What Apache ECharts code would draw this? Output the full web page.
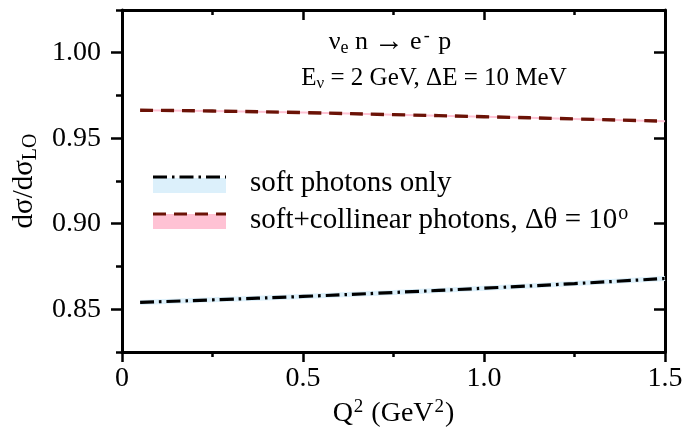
<!DOCTYPE html>
<html>
<head>
<meta charset="utf-8">
<script src="https://cdn.jsdelivr.net/npm/echarts@6/dist/echarts.min.js"></script>
<style>
  html, body { margin: 0; padding: 0; background: #fff; }
  #chart { width: 686px; height: 433px; }
</style>
</head>
<body>
<div id="chart"></div>
<script>
// Q^2 grid (GeV^2) and the ratio dσ/dσ_LO for the two treatments of radiation
const q2 = [0.05, 0.25, 0.5, 0.75, 1.0, 1.25, 1.5];
const softOnly = [0.854, 0.8555, 0.8575, 0.8598, 0.8623, 0.865, 0.868];
const softCollinear = [0.9664, 0.9659, 0.9650, 0.9638, 0.9626, 0.9613, 0.960];

// axis ticks and labels
const xTickLabels = { 0: '0', 0.5: '0.5', 1: '1.0', 1.5: '1.5' };
const yMajor = [0.85, 0.90, 0.95, 1.00];
const yMinor = [0.825, 0.875, 0.925, 0.975, 1.025];

const FONT = 'Liberation Serif';
const DARK_RED = '#6b1206';
const PINK = '#ffc2d4';
const LIGHT_BLUE = '#dcf0fb';

const pairs = (ys) => q2.map((x, i) => [x, ys[i]]);

const chart = echarts.init(document.getElementById('chart'), null, { renderer: 'canvas' });

const axisLine = { show: true, onZero: false, lineStyle: { color: '#000', width: 3 } };
const tickStyle = { color: '#000', width: 2.5 };

const yBase = { type: 'value', min: 0.825, max: 1.025, splitLine: { show: false } };

// rich-text helpers for sub/superscripts
const richMain = (size) => ({ fontFamily: FONT, fontSize: size, color: '#000', lineHeight: size + 4 });
const richSub = (size, drop) => ({
  fontFamily: FONT, fontSize: size, color: '#000', lineHeight: size + 1,
  padding: [drop, 0, 0, 0], verticalAlign: 'bottom'
});
const richSup = (size, rise, side) => ({
  fontFamily: FONT, fontSize: size, color: '#000', lineHeight: size + 1,
  padding: [0, side || 0, rise, side || 0], verticalAlign: 'top'
});

chart.setOption({
  animation: false,
  grid: { left: 122, right: 21, top: 10, bottom: 81, containLabel: false, outerBoundsMode: 'none' },
  xAxis: [
    {
      type: 'value', position: 'bottom', min: 0, max: 1.5, interval: 0.5,
      axisLine,
      axisTick: { inside: false, length: 10, lineStyle: tickStyle },
      minorTick: { show: true, splitNumber: 2, length: 5, lineStyle: tickStyle },
      splitLine: { show: false },
      axisLabel: {
        margin: 13, color: '#000', fontFamily: FONT, fontSize: 28,
        formatter: (v) => xTickLabels[v] ?? ''
      },
      name: '{m|Q}{u|2}{m| (GeV}{u|2}{m|)}', nameLocation: 'middle', nameGap: 44,
      nameTextStyle: {
        color: '#000', fontFamily: FONT, fontSize: 28,
        rich: { m: richMain(28), u: richSup(19, 9, 1) }
      }
    },
    {
      type: 'value', position: 'top', min: 0, max: 1.5, interval: 0.5,
      axisLine,
      axisTick: { inside: true, length: 10, lineStyle: tickStyle },
      minorTick: { show: true, splitNumber: 2, length: 5, lineStyle: tickStyle },
      splitLine: { show: false },
      axisLabel: { show: false }
    }
  ],
  yAxis: [
    Object.assign({}, yBase, {
      position: 'left',
      axisLine,
      axisTick: { inside: false, length: 11, customValues: yMajor, lineStyle: tickStyle },
      axisLabel: {
        customValues: yMajor, margin: 21, color: '#000', fontFamily: FONT, fontSize: 28,
        formatter: (v) => v.toFixed(2)
      },
      name: '{m|dσ/dσ}{s|LO}', nameLocation: 'middle', nameGap: 74, nameRotate: 90,
      nameTextStyle: {
        color: '#000', fontFamily: FONT, fontSize: 28,
        rich: { m: richMain(29), s: richSub(20, 12) }
      }
    }),
    Object.assign({}, yBase, {
      position: 'left',
      axisLine: { show: false },
      axisTick: { inside: false, length: 6, customValues: yMinor, lineStyle: tickStyle },
      axisLabel: { show: false }
    }),
    Object.assign({}, yBase, {
      position: 'right',
      axisLine,
      axisTick: { inside: true, length: 11, customValues: yMajor, lineStyle: tickStyle },
      axisLabel: { show: false }
    }),
    Object.assign({}, yBase, {
      position: 'right',
      axisLine: { show: false },
      axisTick: { inside: true, length: 6, customValues: yMinor, lineStyle: tickStyle },
      axisLabel: { show: false }
    })
  ],
  series: [
    {
      name: 'soft photons only band', type: 'line', data: pairs(softOnly), smooth: true,
      showSymbol: false, silent: true, z: 1,
      lineStyle: { color: LIGHT_BLUE, width: 5 }
    },
    {
      name: 'soft photons only', type: 'line', data: pairs(softOnly), smooth: true,
      showSymbol: false, z: 2,
      lineStyle: { color: '#000', width: 3.2, type: [14, 5, 2.5, 5], cap: 'butt' }
    },
    {
      name: 'soft+collinear band', type: 'line', data: pairs(softCollinear), smooth: true,
      showSymbol: false, silent: true, z: 1,
      lineStyle: { color: PINK, width: 2 }
    },
    {
      name: 'soft+collinear photons', type: 'line', data: pairs(softCollinear), smooth: true,
      showSymbol: false, z: 2,
      lineStyle: { color: DARK_RED, width: 3.4, type: [13, 8], cap: 'butt' }
    }
  ],
  graphic: [
    // process and kinematics
    {
      type: 'text', x: 390, y: 42, z: 10,
      style: {
        text: '{m|ν}{s|e}{m| n}{a|→}{m|e}{u|-}{m| p}',
        align: 'center', verticalAlign: 'middle', fill: '#000',
        rich: {
          m: richMain(26), s: richSub(18, 11), u: richSup(18, 9, 2),
          a: { fontFamily: FONT, fontSize: 30, color: '#000', lineHeight: 30, padding: [0, 6, 0, 6] }
        }
      }
    },
    {
      type: 'text', x: 434, y: 78, z: 10,
      style: {
        text: '{m|E}{s|ν}{m| = 2 GeV, ΔE = 10 MeV}',
        align: 'center', verticalAlign: 'middle', fill: '#000',
        rich: { m: richMain(25), s: richSub(17, 10) }
      }
    },
    // legend
    { type: 'rect', shape: { x: 153, y: 178, width: 73, height: 15 }, style: { fill: LIGHT_BLUE }, z: 10 },
    {
      type: 'line', shape: { x1: 153, y1: 177, x2: 226, y2: 177 }, z: 11,
      style: { stroke: '#000', lineWidth: 3.2, lineDash: [14, 5, 2.5, 5] }
    },
    { type: 'rect', shape: { x: 153, y: 214, width: 73, height: 15 }, style: { fill: PINK }, z: 10 },
    {
      type: 'line', shape: { x1: 153, y1: 214, x2: 226, y2: 214 }, z: 11,
      style: { stroke: DARK_RED, lineWidth: 3.2, lineDash: [13, 8] }
    },
    {
      type: 'text', x: 250, y: 183, z: 10,
      style: { text: 'soft photons only', fill: '#000', verticalAlign: 'middle', font: '29px "Liberation Serif"' }
    },
    {
      type: 'text', x: 250, y: 220, z: 10,
      style: {
        text: '{m|soft+collinear photons, Δθ = 10}{u|o}',
        verticalAlign: 'middle', fill: '#000',
        rich: { m: richMain(29), u: richSup(20, 9, 1) }
      }
    }
  ]
});
</script>
</body>
</html>
